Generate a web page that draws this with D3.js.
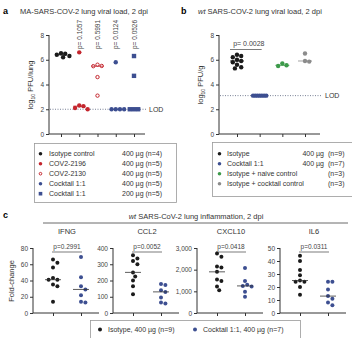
<!DOCTYPE html>
<html>
<head>
<meta charset="utf-8">
<script src="https://cdn.jsdelivr.net/npm/d3@7"></script>
<style>
  body { margin: 0; background: #fff; }
  svg { font-family: "Liberation Sans", Arial, sans-serif; }
  .axis path, .axis line { stroke: #333; }
  .axis text { fill: #444; font-size: 6.5px; }
</style>
</head>
<body>
<svg id="fig" width="352" height="338"></svg>
<script>
// ---- panel a: MA-SARS-COV-2 viral load ----
const aNames = ["Isotype control", "COV2-2196", "COV2-2130", "Cocktail 1:1", "Cocktail 1:1"];
const aDoses = ["400 µg (n=4)", "400 µg (n=5)", "400 µg (n=5)", "400 µg (n=5)", "200 µg (n=5)"];
const aPvals = [null, "p= 0.1057", "p= 0.5991", "p= 0.0124", "p= 0.0526"];
const aValues = [
  [6.52, 6.48, 6.4, 6.3, 6.2],
  [6.6, 2.3, 2.25, 2.1, 2.0],
  [5.6, 5.5, 5.48, 4.6, 3.1],
  [5.8, 2.0, 2.0, 2.0, 2.0],
  [6.3, 4.7, 2.0, 2.0, 2.0]
];
const aLOD = 2;

// ---- panel b: wt SARS-COV-2 viral load ----
const bNames = ["Isotype", "Cocktail 1:1", "Isotype + naive control", "Isotype + cocktail control"];
const bDoses = ["400 µg", "400 µg", "", ""];
const bCounts = ["(n=9)", "(n=7)", "(n=3)", "(n=3)"];
const bValues = [
  [6.4, 6.3, 6.2, 6.0, 5.9, 5.8, 5.6, 5.4, 5.3],
  [3.1, 3.1, 3.1, 3.1, 3.1, 3.1, 3.1],
  [5.7, 5.55, 5.5],
  [6.5, 5.9, 5.85]
];
const bLOD = 3.1;
const bPval = "p= 0.0028";

// ---- panel c: lung inflammation ----
const cGenes = ["IFNG", "CCL2", "CXCL10", "IL6"];
const cMax = [80, 400, 3000, 50];
const cStep = [20, 100, 1000, 10];
const cPvals = ["p=0.2991", "p=0.0052", "p=0.0418", "p=0.0311"];
const cIsotype = [
  [66, 62, 56, 43, 41, 41, 35, 33, 14],
  [355, 335, 320, 300, 250, 225, 200, 165, 115],
  [2750, 2600, 2150, 2100, 1900, 1550, 1480, 1220, 1050],
  [44, 40, 33, 29, 25, 24, 24, 20, 14]
];
const cCocktail = [
  [69, 44, 33, 29, 22, 14, 13],
  [178, 172, 140, 130, 95, 65, 58],
  [2080, 1480, 1300, 1250, 1220, 980, 750],
  [24, 24, 18, 13, 11, 8, 6]
];
const cLegend = ["Isotype, 400 µg (n=9)", "Cocktail 1:1, 400 µg (n=7)"];

const BLACK = "#1b1b1b", RED = "#c4262e", BLUE = "#3d4f91", GREEN = "#3d9a4b", GREY = "#8c8c8c";
const aColors = [BLACK, RED, RED, BLUE, BLUE];
const bColors = [BLACK, BLUE, GREEN, GREY];
const cColors = [BLACK, BLUE];

const svg = d3.select("#fig");

// simple deterministic swarm: spread overlapping dots sideways
function swarm(values, y, gap) {
  const order = values.map((v, i) => i).sort((p, q) => values[q] - values[p]);
  const placed = [];
  const off = new Array(values.length).fill(0);
  order.forEach(i => {
    const yi = y(values[i]);
    for (let k = 0; k < 40; k++) {
      const dx = (k % 2 ? 1 : -1) * Math.ceil(k / 2) * gap * 0.5;
      const ok = placed.every(p => Math.hypot(p.x - dx, p.y - yi) >= gap * 0.95);
      if (ok) { off[i] = dx; placed.push({ x: dx, y: yi }); break; }
    }
  });
  return off;
}

function dot(g, shape, color, x, y, r) {
  if (shape === "square") {
    g.append("rect").attr("x", x - r).attr("y", y - r).attr("width", 2 * r).attr("height", 2 * r).attr("fill", color);
  } else if (shape === "open") {
    g.append("circle").attr("cx", x).attr("cy", y).attr("r", r - 0.5).attr("fill", "#fff").attr("stroke", color).attr("stroke-width", 1);
  } else {
    g.append("circle").attr("cx", x).attr("cy", y).attr("r", r).attr("fill", color);
  }
}

function yLabel(x, y, main) {
  const t = svg.append("text").attr("transform", `translate(${x},${y}) rotate(-90)`)
    .attr("text-anchor", "middle").attr("font-size", 7.5).attr("fill", "#333");
  t.append("tspan").text("log");
  t.append("tspan").attr("font-size", 5).attr("dy", 1.5).text("10");
  t.append("tspan").attr("dy", -1.5).text(" " + main);
}

// ================= panel a =================
svg.append("text").attr("x", 3).attr("y", 14).attr("font-weight", "bold").attr("font-size", 9).text("a");
svg.append("text").attr("x", 20).attr("y", 14).attr("font-size", 7.5).attr("fill", "#333")
  .text("MA-SARS-COV-2 lung viral load, 2 dpi");

const ay = d3.scaleLinear().domain([0, 8]).range([134, 35]);
const ax = d3.scalePoint().domain(d3.range(5)).range([61, 134]);
const gA = svg.append("g");
gA.append("g").attr("class", "axis").attr("transform", "translate(49,0)")
  .call(d3.axisLeft(ay).tickValues([0, 2, 4, 6, 8]).tickSize(3).tickPadding(2))
  .call(g => g.select(".domain").attr("d", `M0,${ay(8)}V${ay(0)}`));
gA.append("g").attr("class", "axis").attr("transform", `translate(0,${ay(0)})`)
  .call(d3.axisBottom(ax).tickSize(3).tickFormat(""))
  .call(g => g.select(".domain").attr("d", "M49,0H145"));
yLabel(33, 85, "PFU/lung");

gA.append("line").attr("x1", 50).attr("x2", 146).attr("y1", ay(aLOD)).attr("y2", ay(aLOD))
  .attr("stroke", "#55607a").attr("stroke-width", 0.8).attr("stroke-dasharray", "1,1.5");
gA.append("text").attr("x", 149).attr("y", ay(aLOD) + 2.5).attr("font-size", 7).attr("fill", "#333").text("LOD");

const aShapes = ["dot", "dot", "open", "dot", "square"];
aValues.forEach((vals, gi) => {
  const off = swarm(vals, ay, 4.2);
  vals.forEach((v, i) => dot(gA, aShapes[gi], aColors[gi], ax(gi) + off[i], ay(v), 2.2));
  const m = d3.median(vals);
  gA.append("line").attr("x1", ax(gi) - 6).attr("x2", ax(gi) + 6).attr("y1", ay(m)).attr("y2", ay(m))
    .attr("stroke", aColors[gi]).attr("stroke-width", 0.8);
  if (aPvals[gi]) {
    gA.append("text").attr("transform", `translate(${ax(gi) + 2.5},49) rotate(-90)`)
      .attr("font-size", 6.5).attr("fill", "#444").text(aPvals[gi]);
  }
});

// legend a
const legA = svg.append("g");
legA.append("rect").attr("x", 34.5).attr("y", 143.5).attr("width", 142).attr("height", 59)
  .attr("fill", "none").attr("stroke", "#999").attr("stroke-width", 0.8);
aNames.forEach((n, i) => {
  const yy = 156 + i * 10;
  dot(legA, aShapes[i], aColors[i], 40.5, yy - 2.3, 1.8);
  legA.append("text").attr("x", 49).attr("y", yy).attr("font-size", 7).attr("fill", "#333").text(n);
  legA.append("text").attr("x", 122).attr("y", yy).attr("font-size", 7).attr("fill", "#333").text(aDoses[i]);
});

// ================= panel b =================
svg.append("text").attr("x", 181).attr("y", 14).attr("font-weight", "bold").attr("font-size", 9).text("b");
const bt = svg.append("text").attr("x", 198).attr("y", 14).attr("font-size", 7.5).attr("fill", "#333");
bt.append("tspan").attr("font-style", "italic").text("wt");
bt.append("tspan").text(" SARS-COV-2 lung viral load, 2 dpi");

const by = d3.scaleLinear().domain([0, 8]).range([134, 35]);
const bx = d3.scalePoint().domain(d3.range(4)).range([237, 305]);
const gB = svg.append("g");
gB.append("g").attr("class", "axis").attr("transform", "translate(219,0)")
  .call(d3.axisLeft(by).tickValues([0, 2, 4, 6, 8]).tickSize(3).tickPadding(2))
  .call(g => g.select(".domain").attr("d", `M0,${by(8)}V${by(0)}`));
gB.append("g").attr("class", "axis").attr("transform", `translate(0,${by(0)})`)
  .call(d3.axisBottom(bx).tickSize(3).tickFormat(""))
  .call(g => g.select(".domain").attr("d", "M219,0H320"));
yLabel(203, 85, "PFU/g");

gB.append("line").attr("x1", 220).attr("x2", 322).attr("y1", by(bLOD)).attr("y2", by(bLOD))
  .attr("stroke", "#55607a").attr("stroke-width", 0.8).attr("stroke-dasharray", "1,1.5");
gB.append("text").attr("x", 325).attr("y", by(bLOD) + 2.5).attr("font-size", 7).attr("fill", "#333").text("LOD");

bValues.forEach((vals, gi) => {
  const off = swarm(vals, by, gi === 1 ? 2.2 : 4.2);
  vals.forEach((v, i) => dot(gB, "dot", bColors[gi], bx(gi) + off[i], by(v), 2.2));
  const m = d3.median(vals);
  gB.append("line").attr("x1", bx(gi) - 7).attr("x2", bx(gi) + 7).attr("y1", by(m)).attr("y2", by(m))
    .attr("stroke", bColors[gi]).attr("stroke-width", 0.8);
});
gB.append("text").attr("x", (bx(0) + bx(1)) / 2 + 0.5).attr("y", 46).attr("text-anchor", "middle")
  .attr("font-size", 7).attr("fill", "#444").text(bPval);
gB.append("line").attr("x1", bx(0) - 7).attr("x2", bx(1) + 2).attr("y1", 49.5).attr("y2", 49.5)
  .attr("stroke", "#444").attr("stroke-width", 0.7);

// legend b
const legB = svg.append("g");
legB.append("rect").attr("x", 212.5).attr("y", 142.5).attr("width", 150).attr("height", 54)
  .attr("fill", "none").attr("stroke", "#999").attr("stroke-width", 0.8);
bNames.forEach((n, i) => {
  const yy = 156 + i * 10;
  dot(legB, "dot", bColors[i], 219.5, yy - 2.3, 1.8);
  legB.append("text").attr("x", 227).attr("y", yy).attr("font-size", 7).attr("fill", "#333").text(n);
  legB.append("text").attr("x", 324).attr("y", yy).attr("text-anchor", "end").attr("font-size", 7).attr("fill", "#333").text(bDoses[i]);
  legB.append("text").attr("x", 328).attr("y", yy).attr("font-size", 7).attr("fill", "#333").text(bCounts[i]);
});

// ================= panel c =================
svg.append("text").attr("x", 3).attr("y", 218).attr("font-weight", "bold").attr("font-size", 9).text("c");
const ct = svg.append("text").attr("x", 196).attr("y", 219).attr("text-anchor", "middle").attr("font-size", 7.5).attr("fill", "#333");
ct.append("tspan").attr("font-style", "italic").text("wt");
ct.append("tspan").text(" SARS-CoV-2 lung inflammation, 2 dpi");
svg.append("line").attr("x1", 43).attr("x2", 348).attr("y1", 223).attr("y2", 223).attr("stroke", "#444").attr("stroke-width", 0.8);

svg.append("text").attr("transform", "translate(14,281) rotate(-90)").attr("text-anchor", "middle")
  .attr("font-size", 7.5).attr("fill", "#333").text("Fold-change");

const cLeft = [33, 113, 197, 280];
cGenes.forEach((gene, k) => {
  const x0 = cLeft[k];
  const y = d3.scaleLinear().domain([0, cMax[k]]).range([313, 248]);
  const x = d3.scalePoint().domain([0, 1]).range([x0 + 20, x0 + 48]);
  const g = svg.append("g");
  g.append("g").attr("class", "axis").attr("transform", `translate(${x0},0)`)
    .call(d3.axisLeft(y).tickValues(d3.range(0, cMax[k] + 1, cStep[k])).tickSize(3).tickPadding(2))
    .call(a => a.select(".domain").attr("d", `M0,${y(cMax[k])}V${y(0)}`));
  g.append("g").attr("class", "axis").attr("transform", `translate(0,${y(0)})`)
    .call(d3.axisBottom(x).tickSize(3).tickFormat(""))
    .call(a => a.select(".domain").attr("d", `M${x0},0H${x0 + 66}`));
  g.append("text").attr("x", x0 + 34).attr("y", 234).attr("text-anchor", "middle").attr("font-size", 7.5)
    .attr("fill", "#333").text(gene);
  g.append("text").attr("x", (x(0) + x(1)) / 2).attr("y", 249).attr("text-anchor", "middle").attr("font-size", 6.5)
    .attr("fill", "#444").text(cPvals[k]);
  g.append("line").attr("x1", x(0) - 1).attr("x2", x(1) + 1).attr("y1", 252).attr("y2", 252)
    .attr("stroke", "#444").attr("stroke-width", 0.7);
  [cIsotype[k], cCocktail[k]].forEach((vals, gi) => {
    const off = swarm(vals, y, 4.4);
    vals.forEach((v, i) => dot(g, "dot", cColors[gi], x(gi) + off[i], y(v), 2));
    const m = d3.median(vals);
    g.append("line").attr("x1", x(gi) - 8).attr("x2", x(gi) + 8).attr("y1", y(m)).attr("y2", y(m))
      .attr("stroke", "#333").attr("stroke-width", 0.8);
  });
});

// legend c
const legC = svg.append("g");
legC.append("rect").attr("x", 90.5).attr("y", 320.5).attr("width", 210).attr("height", 20)
  .attr("fill", "none").attr("stroke", "#999").attr("stroke-width", 0.8);
cLegend.forEach((n, i) => {
  const xx = [100, 195][i];
  dot(legC, "dot", cColors[i], xx, 329.5, 2);
  legC.append("text").attr("x", xx + 8).attr("y", 332).attr("font-size", 7).attr("fill", "#333").text(n);
});
</script>
</body>
</html>
